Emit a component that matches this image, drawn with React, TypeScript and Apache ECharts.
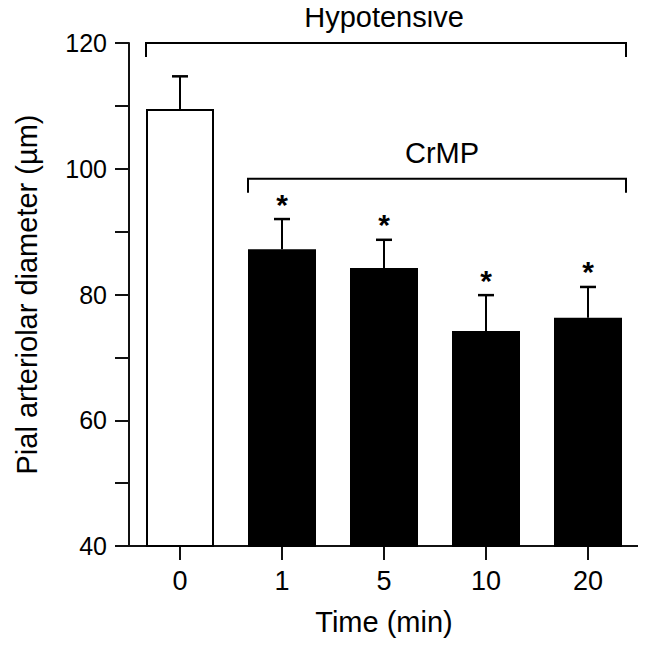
import React, { useEffect, useRef } from "react";
import * as echarts from "echarts";

const categories = ["0", "1", "5", "10", "20"];
const means = [109.5, 87.2, 84.2, 74.2, 76.3];
const sem = [5.2, 4.8, 4.5, 5.7, 4.9];
const significant = [false, true, true, true, true];
const barFills = ["#ffffff", "#000000", "#000000", "#000000", "#000000"];
const bracketLabels = ["Hypotensive", "CrMP"];
const bracketStart = [0, 1];
const bracketEnd = [4, 4];
const bracketLevel = [120, 98.4];

const FONT = "'Liberation Sans', Arial, Helvetica, sans-serif";
const BAR_WIDTH = 68;
const INK = "#111111";

export default function App() {
  const ref = useRef<HTMLDivElement>(null);

  useEffect(() => {
    if (!ref.current) return;
    const chart = echarts.init(ref.current, null, { renderer: "svg" });

    const barData = means.map((v, i) => ({
      value: v,
      itemStyle: {
        color: barFills[i],
        borderColor: "#000",
        borderWidth: 2,
      },
    }));

    const errData = means.map((v, i) => [i, v, sem[i], significant[i] ? 1 : 0]);
    const bracketData = bracketLabels.map((l, i) => [
      bracketStart[i],
      bracketEnd[i],
      bracketLevel[i],
      i,
    ]);

    const option = {
      animation: false,
      backgroundColor: "#ffffff",
      textStyle: { fontFamily: FONT },
      grid: { left: 129, right: 7, top: 43, bottom: 100, containLabel: false },
      xAxis: {
        type: "category",
        data: categories,
        boundaryGap: true,
        name: "Time (min)",
        nameLocation: "middle",
        nameGap: 61,
        nameTextStyle: { fontSize: 29, color: "#000", fontFamily: FONT },
        axisLine: { show: true, lineStyle: { color: INK, width: 2 } },
        axisTick: {
          show: true,
          alignWithLabel: true,
          length: 14,
          lineStyle: { color: INK, width: 2 },
        },
        axisLabel: {
          fontSize: 27,
          color: "#000",
          margin: 21,
          fontFamily: FONT,
        },
      },
      yAxis: {
        type: "value",
        min: 40,
        max: 120,
        interval: 10,
        name: "Pial arteriolar diameter (\u00b5m)",
        nameLocation: "middle",
        nameGap: 88,
        nameTextStyle: { fontSize: 29, color: "#000", fontFamily: FONT },
        axisLine: { show: true, lineStyle: { color: INK, width: 2 } },
        axisTick: { show: true, length: 14, lineStyle: { color: INK, width: 2 } },
        splitLine: { show: false },
        axisLabel: {
          fontSize: 25,
          color: "#000",
          margin: 22,
          fontFamily: FONT,
          formatter: (v: number) => (v % 20 === 0 ? String(v) : ""),
        },
      },
      series: [
        {
          type: "bar",
          data: barData,
          barWidth: BAR_WIDTH,
          z: 2,
        },
        {
          type: "custom",
          z: 3,
          data: errData,
          renderItem: (params: any, api: any) => {
            const idx = api.value(0);
            const m = api.value(1);
            const e = api.value(2);
            const sig = api.value(3);
            const p0 = api.coord([idx, m]);
            const p1 = api.coord([idx, m + e]);
            const children: any[] = [
              {
                type: "line",
                shape: { x1: p0[0], y1: p0[1], x2: p1[0], y2: p1[1] },
                style: { stroke: "#000", lineWidth: 2 },
              },
              {
                type: "line",
                shape: { x1: p1[0] - 8, y1: p1[1], x2: p1[0] + 8, y2: p1[1] },
                style: { stroke: "#000", lineWidth: 2.5 },
              },
            ];
            if (sig) {
              children.push({
                type: "text",
                x: p1[0],
                y: p1[1] - 15,
                style: {
                  text: "*",
                  fontSize: 30,
                  fontWeight: "bold",
                  fontFamily: FONT,
                  fill: "#000",
                  align: "center",
                  verticalAlign: "middle",
                },
              });
            }
            return { type: "group", children };
          },
        },
        {
          type: "custom",
          z: 3,
          data: bracketData,
          renderItem: (params: any, api: any) => {
            const s = api.value(0);
            const e = api.value(1);
            const lvl = api.value(2);
            const li = api.value(3);
            const pl = api.coord([s, lvl]);
            const pr = api.coord([e, lvl]);
            const lx = pl[0] - BAR_WIDTH / 2;
            const rx = pr[0] + BAR_WIDTH / 2 + 4;
            const y = pl[1];
            return {
              type: "group",
              children: [
                {
                  type: "polyline",
                  shape: {
                    points: [
                      [lx, y + 14],
                      [lx, y],
                      [rx, y],
                      [rx, y + 14],
                    ],
                  },
                  style: { stroke: "#000", lineWidth: 2, fill: null },
                },
                {
                  type: "text",
                  x: (lx + rx) / 2 + (li === 1 ? 5 : -2),
                  y: y - 26,
                  style: {
                    text: bracketLabels[li],
                    fontSize: 29,
                    fontFamily: FONT,
                    fill: "#000",
                    align: "center",
                    verticalAlign: "middle",
                  },
                },
              ],
            };
          },
        },
      ],
    };

    chart.setOption(option as any);
    return () => chart.dispose();
  }, []);

  return <div ref={ref} style={{ width: 646, height: 646, margin: -8 }} />;
}
